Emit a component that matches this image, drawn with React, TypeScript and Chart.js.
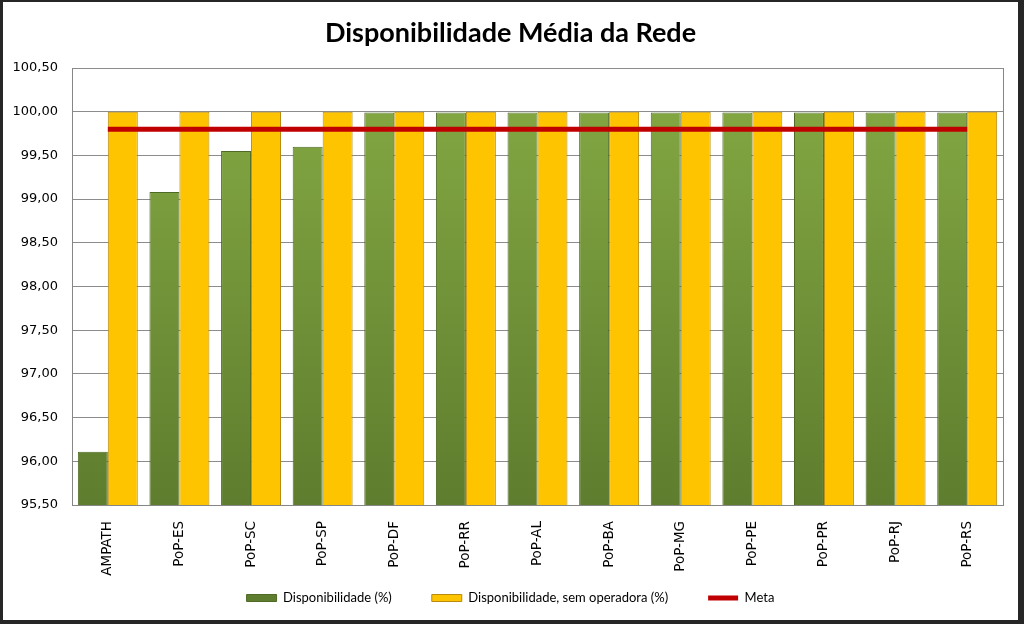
import React, { useEffect, useRef } from "react";
import { Chart, registerables } from "chart.js";

Chart.register(...registerables);

const categories = ["AMPATH", "PoP-ES", "PoP-SC", "PoP-SP", "PoP-DF", "PoP-RR", "PoP-AL", "PoP-BA", "PoP-MG", "PoP-PE", "PoP-PR", "PoP-RJ", "PoP-RS"];
const disponibilidade = [96.11, 99.08, 99.55, 99.6, 99.99, 99.99, 99.99, 99.99, 99.99, 99.99, 99.99, 99.99, 99.99];
const semOperadora = [100, 100, 100, 100, 100, 100, 100, 100, 100, 100, 100, 100, 100];
const meta = [99.8, 99.8, 99.8, 99.8, 99.8, 99.8, 99.8, 99.8, 99.8, 99.8, 99.8, 99.8, 99.8];
const yTicks = [95.5, 96, 96.5, 97, 97.5, 98, 98.5, 99, 99.5, 100, 100.5];

const LEGEND_PAD = 40;

export default function App() {
  const ref = useRef<HTMLCanvasElement>(null);
  useEffect(() => {
    if (!ref.current) return;
    const greenFill = (c: any) => {
      const area = c.chart.chartArea;
      if (!area) return "#77933C";
      const g = c.chart.ctx.createLinearGradient(0, area.top, 0, area.bottom);
      g.addColorStop(0, "#86AA44");
      g.addColorStop(1, "#5E7D2E");
      return g;
    };
    const legendPlacer = {
      id: "legendPlacer",
      afterLayout(chart: any) {
        if (chart.legend) {
          // put the legend row's centre at y = 596 (canvas)
          const fontSize = 13;
          chart.legend.top = 596 - LEGEND_PAD - fontSize / 2;
          chart.legend.bottom = chart.legend.top + chart.legend.height;
        }
      },
    };
    const chart = new Chart(ref.current, {
      data: {
        labels: categories,
        datasets: [
          {
            type: "bar",
            label: "Disponibilidade (%)",
            data: disponibilidade,
            backgroundColor: greenFill,
            borderColor: "#4F6A24",
            borderWidth: 1,
            categoryPercentage: 0.837,
            barPercentage: 1,
            pointStyle: "rect",
            order: 2,
          },
          {
            type: "bar",
            label: "Disponibilidade, sem operadora (%)",
            data: semOperadora,
            backgroundColor: "#FFC400",
            borderColor: "#B88A10",
            borderWidth: 1,
            categoryPercentage: 0.837,
            barPercentage: 1,
            pointStyle: "rect",
            order: 2,
          },
          {
            type: "line",
            label: "Meta",
            data: meta,
            borderColor: "#C00000",
            backgroundColor: "#C00000",
            borderWidth: 5,
            pointRadius: 0,
            pointStyle: "line",
            order: 1,
          },
        ],
      } as any,
      options: {
        animation: false,
        responsive: false,
        layout: { padding: { left: 0, right: 0, top: 0, bottom: -28 } },
        plugins: {
          title: {
            display: true,
            text: "Disponibilidade Média da Rede",
            color: "#000",
            font: { family: "Lato", size: 27, weight: "bold" },
            padding: { top: 15, bottom: 18.6 },
          },
          legend: {
            position: "bottom",
            labels: {
              color: "#000",
              font: { family: "Lato", size: 13 },
              usePointStyle: true,
              pointStyleWidth: 30,
              boxHeight: 7,
              padding: LEGEND_PAD,
              sort: (a: any, b: any) => a.datasetIndex - b.datasetIndex,
            },
          },
          tooltip: { enabled: false },
        },
        scales: {
          x: {
            grid: { display: false, offset: true },
            border: { color: "#868686" },
            ticks: {
              color: "#000",
              font: { family: "DejaVu Sans", size: 13.5 },
              minRotation: 90,
              maxRotation: 90,
              padding: 8,
            },
            afterFit: (s: any) => {
              s.height = 80;
            },
          },
          y: {
            min: 95.5,
            max: 100.5,
            afterBuildTicks: (s: any) => {
              s.ticks = yTicks.map((v) => ({ value: v }));
            },
            grid: { color: "#8C8C8C", drawTicks: false },
            border: { color: "#868686" },
            ticks: {
              color: "#000",
              font: { family: "DejaVu Sans", size: 13 },
              padding: 14,
              callback: (v: any) => Number(v).toFixed(2).replace(".", ","),
            },
            afterFit: (s: any) => {
              s.width = 69;
            },
          },
          y2: {
            position: "right",
            min: 95.5,
            max: 100.5,
            grid: { drawOnChartArea: false, drawTicks: false },
            border: { color: "#868686" },
            ticks: { display: false },
            afterFit: (s: any) => {
              s.width = 15;
            },
          },
        },
      } as any,
      plugins: [legendPlacer],
    });
    return () => chart.destroy();
  }, []);
  return (
    <div
      style={{
        position: "fixed",
        left: 0,
        top: 0,
        width: 1024,
        height: 624,
        boxSizing: "border-box",
        borderStyle: "solid",
        borderColor: "#262626",
        borderWidth: "2px 6px 4px 3px",
        background: "#fff",
      }}
    >
      <style>{`body{margin:0}`}</style>
      <canvas ref={ref} width={1015} height={618} style={{ display: "block" }} />
    </div>
  );
}
